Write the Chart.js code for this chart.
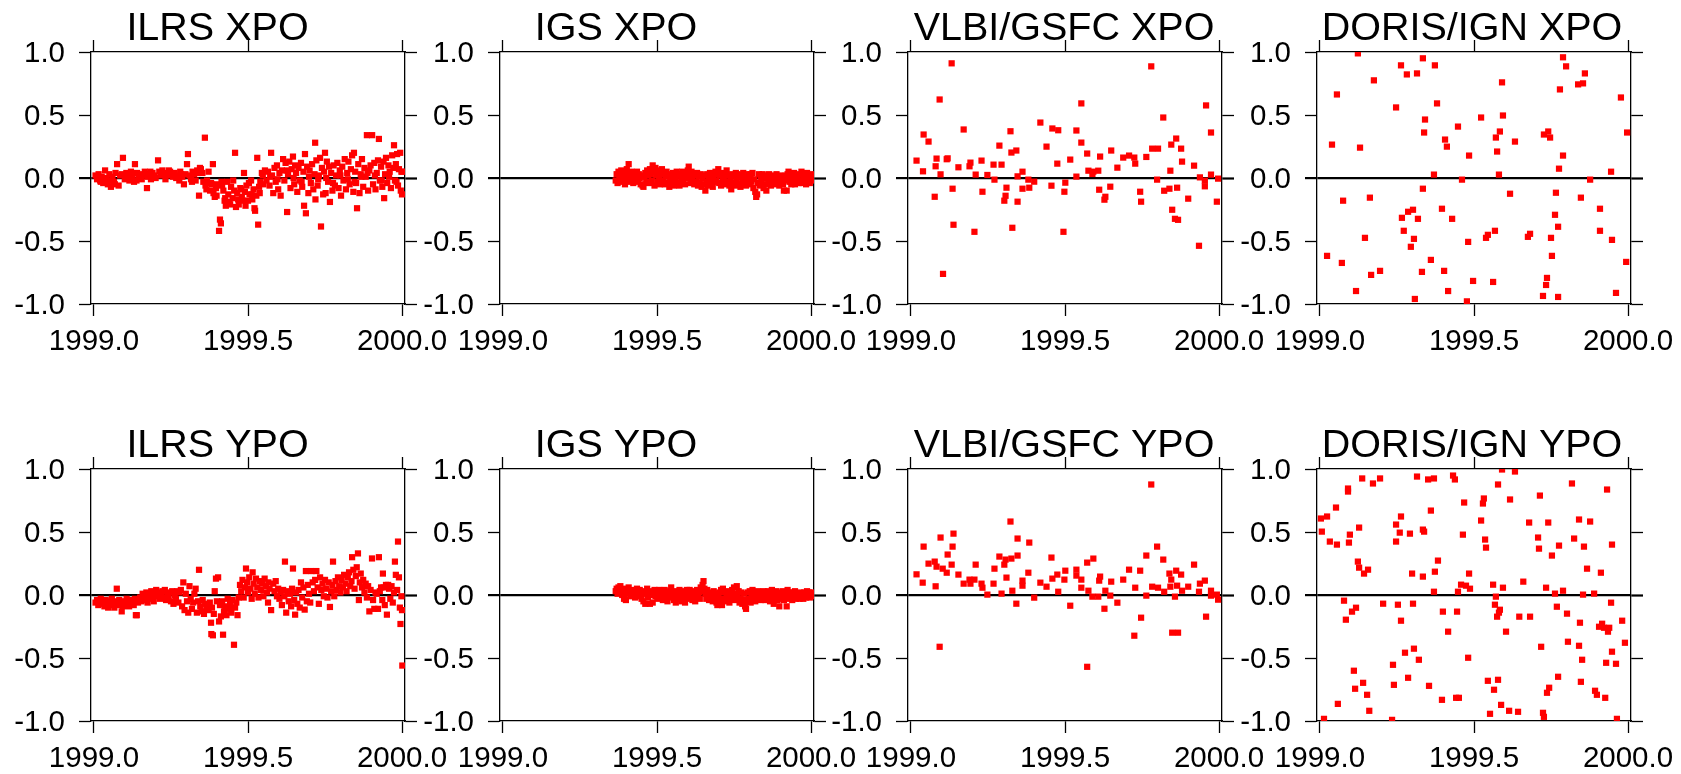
<!DOCTYPE html>
<html>
<head>
<meta charset="utf-8">
<script src="https://cdn.jsdelivr.net/npm/chart.js@4.4.1/dist/chart.umd.min.js"></script>
<style>
html,body{margin:0;padding:0;background:#fff;width:1681px;height:774px;overflow:hidden;position:relative;}
canvas{position:absolute;}
</style>
</head>
<body>
<script>
// ---------- axis settings ----------
const xTicks = [1999.0, 1999.5, 2000.0];
const yTicks = [-1.0, -0.5, 0.0, 0.5, 1.0];
const xMin = 1998.9903, xMax = 2000.0097;
const yMin = -1.0, yMax = 1.0;

// ---------- ILRS XPO ----------
const ilrsXpoX = [
1999.005,1999.010,1999.015,1999.020,1999.022,1999.025,1999.030,1999.036,1999.040,1999.045,
1999.048,1999.050,1999.055,1999.060,1999.065,1999.068,1999.070,1999.075,1999.080,1999.085,
1999.090,1999.094,1999.100,1999.102,1999.105,1999.110,1999.115,1999.120,1999.125,1999.130,
1999.133,1999.138,1999.140,1999.145,1999.150,1999.155,1999.160,1999.165,1999.172,1999.175,
1999.180,1999.183,1999.185,1999.190,1999.195,1999.200,1999.208,1999.212,1999.217,1999.222,
1999.227,1999.232,1999.237,1999.242,1999.243,1999.247,1999.252,1999.257,1999.262,1999.267,
1999.272,1999.277,1999.280,1999.282,1999.287,1999.292,1999.297,1999.302,1999.305,1999.310,
1999.315,1999.318,1999.320,1999.325,1999.330,1999.335,1999.338,1999.341,1999.344,1999.347,
1999.352,1999.355,1999.360,1999.362,1999.365,1999.367,1999.372,1999.377,1999.380,1999.383,
1999.386,1999.388,1999.392,1999.396,1999.398,1999.401,1999.406,1999.409,1999.412,1999.414,
1999.416,1999.420,1999.424,1999.426,1999.428,1999.432,1999.436,1999.440,1999.442,1999.445,
1999.450,1999.452,1999.455,1999.458,1999.461,1999.465,1999.468,1999.470,1999.475,1999.478,
1999.480,1999.484,1999.487,1999.490,1999.492,1999.495,1999.500,1999.503,1999.505,1999.510,
1999.512,1999.514,1999.518,1999.521,1999.523,1999.527,1999.530,1999.533,1999.536,1999.538,
1999.540,1999.545,1999.548,1999.550,1999.555,1999.560,
1999.565,1999.570,1999.572,1999.575,1999.578,1999.582,1999.586,1999.590,1999.594,1999.596,
1999.598,1999.602,1999.606,1999.610,1999.614,1999.618,1999.622,1999.626,1999.627,1999.630,
1999.634,1999.638,1999.642,1999.646,1999.648,1999.650,1999.653,1999.656,1999.660,1999.664,
1999.668,1999.672,1999.674,1999.676,1999.680,1999.682,1999.685,1999.688,1999.692,1999.696,
1999.698,1999.700,1999.704,1999.708,1999.712,1999.716,1999.718,1999.719,1999.722,1999.726,
1999.728,1999.730,1999.734,1999.737,1999.740,1999.744,1999.747,1999.750,1999.752,1999.754,
1999.756,1999.760,1999.763,1999.766,1999.770,1999.774,1999.776,1999.778,1999.782,1999.786,
1999.790,1999.794,1999.798,1999.800,1999.802,1999.806,1999.810,1999.814,1999.818,1999.822,
1999.824,1999.826,1999.830,1999.834,1999.838,1999.842,1999.844,1999.846,1999.848,1999.851,
1999.854,1999.858,1999.862,1999.866,1999.868,1999.870,1999.874,1999.878,1999.882,1999.886,
1999.888,1999.890,1999.894,1999.898,1999.903,1999.906,1999.910,1999.912,1999.914,1999.918,
1999.922,1999.925,1999.928,1999.932,1999.934,1999.936,1999.940,1999.942,1999.945,1999.948,
1999.952,1999.956,1999.958,1999.960,1999.964,1999.968,1999.972,1999.974,1999.977,1999.980,
1999.982,1999.984,1999.987,1999.990,1999.994,1999.996,1999.998,2000.000,2000.001];
const ilrsXpoY = [
0.02,-0.01,0.03,-0.02,-0.03,0.01,-0.04,0.06,0.00,-0.05,
-0.02,0.03,-0.07,0.01,-0.03,-0.05,0.04,0.11,-0.06,0.02,
0.03,0.16,-0.01,0.02,0.04,0.02,-0.02,0.05,0.01,-0.03,
0.11,-0.02,0.04,0.00,0.03,-0.01,0.02,0.05,-0.08,0.01,
0.03,0.05,-0.01,0.04,0.02,0.00,0.14,0.05,0.02,0.06,
0.03,-0.01,0.04,0.02,0.06,0.05,0.03,0.01,0.04,0.00,
0.02,-0.02,0.05,0.03,0.01,-0.05,0.03,0.11,0.19,0.02,
-0.01,-0.03,0.05,0.03,-0.02,0.06,0.04,-0.14,0.08,0.07,
0.04,-0.03,0.32,-0.06,-0.09,-0.02,0.05,-0.10,-0.04,-0.05,
0.11,-0.12,-0.15,-0.08,-0.14,-0.05,-0.42,-0.33,-0.36,-0.03,
-0.06,-0.10,-0.18,-0.16,-0.22,-0.03,-0.13,-0.19,-0.21,-0.07,
-0.16,-0.02,-0.10,0.20,-0.23,-0.12,-0.17,-0.21,-0.08,-0.09,
-0.15,-0.18,0.04,-0.11,-0.22,-0.06,-0.18,-0.04,-0.13,-0.02,
-0.13,-0.17,-0.09,-0.24,-0.26,-0.14,0.16,-0.37,-0.07,-0.12,
-0.03,0.04,0.02,-0.05,0.06,-0.02,
0.05,-0.06,0.01,0.20,0.02,-0.12,0.08,-0.03,0.10,-0.01,
-0.09,0.04,-0.14,0.06,0.15,-0.02,0.12,0.06,-0.27,0.03,
0.13,-0.08,0.07,0.17,0.00,-0.05,0.10,0.04,-0.11,0.08,
-0.02,0.12,-0.03,-0.07,0.05,-0.22,0.19,-0.28,0.09,-0.12,
0.01,0.06,-0.04,0.11,-0.09,0.03,0.28,-0.17,0.14,-0.06,
-0.01,0.02,0.16,-0.385,0.08,-0.13,0.05,0.20,-0.12,0.00,
0.13,-0.03,0.09,-0.19,0.04,-0.10,-0.04,0.10,-0.06,0.02,
0.12,-0.08,0.06,0.02,-0.14,0.09,-0.02,0.15,-0.09,0.04,
-0.01,0.13,-0.05,0.07,0.18,-0.11,0.20,-0.03,0.05,-0.04,
-0.24,0.11,-0.12,0.03,0.01,0.15,-0.07,0.08,0.01,0.34,
0.04,-0.10,0.06,0.10,0.34,-0.05,0.12,0.02,-0.09,0.04,
0.14,0.31,-0.02,0.09,-0.02,-0.07,0.13,-0.16,0.03,0.16,
-0.04,0.10,0.01,0.05,-0.08,0.18,0.08,0.26,-0.02,0.11,
-0.03,0.19,-0.06,0.07,0.20,-0.10,0.05,-0.13,0.05];

// ---------- ILRS YPO ----------
const ilrsYpoX = [
1999.005,1999.010,1999.014,1999.018,1999.022,1999.026,1999.030,1999.034,1999.038,1999.042,
1999.046,1999.050,1999.054,1999.058,1999.062,1999.066,1999.070,1999.074,1999.078,1999.082,
1999.086,1999.090,1999.094,1999.098,1999.102,1999.106,1999.110,1999.114,1999.118,1999.122,
1999.126,1999.129,1999.133,1999.136,1999.139,1999.143,
1999.150,1999.154,1999.158,1999.162,1999.166,1999.170,1999.174,1999.178,1999.182,1999.186,
1999.190,1999.194,1999.198,1999.202,1999.206,1999.210,1999.214,1999.218,1999.222,1999.226,
1999.230,1999.234,1999.238,1999.242,1999.246,1999.250,1999.254,1999.258,1999.262,1999.266,
1999.270,1999.274,1999.278,1999.282,1999.286,1999.290,1999.294,1999.298,1999.302,1999.306,
1999.310,1999.314,1999.318,1999.322,1999.326,1999.330,1999.334,1999.338,1999.341,
1999.345,1999.349,1999.353,1999.357,1999.361,1999.365,1999.369,1999.372,1999.376,1999.380,
1999.381,1999.383,1999.386,1999.389,1999.392,1999.396,1999.399,1999.403,1999.406,1999.409,
1999.412,1999.416,1999.419,1999.422,1999.426,1999.430,1999.434,1999.438,1999.442,1999.446,
1999.450,1999.4545,1999.458,1999.462,1999.466,1999.470,
1999.474,1999.478,1999.482,1999.486,1999.490,1999.4935,1999.497,1999.500,1999.504,1999.508,
1999.512,1999.515,1999.518,1999.522,1999.526,1999.530,1999.534,1999.538,1999.542,1999.546,
1999.550,1999.554,1999.558,1999.562,1999.565,1999.566,1999.570,1999.575,1999.582,1999.586,
1999.590,1999.594,1999.598,
1999.602,1999.606,1999.610,1999.614,1999.618,1999.620,1999.624,1999.628,1999.632,1999.636,
1999.640,1999.643,1999.646,1999.650,1999.653,1999.656,1999.660,1999.664,1999.668,1999.672,
1999.676,1999.680,1999.684,1999.688,1999.691,1999.694,1999.698,1999.702,1999.706,1999.710,
1999.714,1999.718,1999.722,1999.726,1999.730,1999.734,1999.738,1999.742,1999.746,1999.750,
1999.754,1999.758,1999.762,1999.766,1999.770,1999.774,1999.776,1999.780,1999.784,1999.788,
1999.792,1999.796,
1999.800,1999.804,1999.808,1999.812,1999.816,1999.820,1999.824,1999.828,1999.832,1999.836,
1999.838,1999.842,1999.846,1999.850,1999.853,1999.857,1999.860,1999.863,1999.866,1999.870,
1999.874,1999.878,1999.882,1999.886,1999.890,1999.894,1999.898,1999.9026,1999.906,1999.910,
1999.914,
1999.918,1999.922,1999.925,1999.928,1999.932,1999.936,1999.938,1999.940,1999.944,1999.948,
1999.951,1999.955,1999.958,1999.962,1999.966,1999.970,1999.974,1999.977,1999.980,1999.984,
1999.987,1999.990,1999.993,1999.995,1999.998,2000.000,2000.001];
const ilrsYpoY = [
-0.06,-0.04,-0.08,-0.05,-0.03,-0.07,-0.05,-0.09,-0.04,-0.06,
-0.10,-0.05,-0.08,-0.03,-0.07,-0.10,-0.05,0.05,-0.08,-0.04,
-0.06,-0.13,-0.09,-0.05,-0.07,-0.03,-0.06,-0.09,-0.04,-0.07,
-0.05,-0.08,-0.03,-0.16,-0.16,-0.06,
-0.02,-0.05,0.01,-0.04,-0.01,0.02,-0.06,-0.03,0.00,0.03,
-0.02,-0.05,0.01,0.04,-0.01,0.02,-0.03,0.00,0.03,-0.02,
0.04,-0.04,0.01,-0.01,0.02,-0.05,0.03,-0.07,0.00,-0.03,
0.03,-0.06,0.02,0.04,-0.09,0.10,-0.12,0.01,-0.05,-0.14,
0.07,-0.03,-0.11,-0.06,0.01,0.05,-0.14,-0.05,0.20,
-0.09,-0.13,-0.04,-0.15,-0.07,-0.11,-0.08,-0.12,-0.06,-0.22,
-0.31,-0.10,-0.32,-0.15,0.03,0.13,-0.05,0.14,-0.21,-0.08,
-0.17,-0.05,-0.315,-0.13,-0.09,-0.16,-0.03,-0.11,-0.07,-0.14,
-0.04,-0.395,-0.10,-0.06,-0.16,-0.02,
0.08,0.03,0.12,-0.02,0.06,0.21,0.10,0.02,0.14,0.05,
-0.03,0.18,0.09,0.01,0.13,0.06,-0.02,0.11,0.04,0.09,
-0.01,0.13,0.07,0.02,-0.06,0.10,0.05,-0.12,0.09,0.03,
0.11,-0.01,0.05,
-0.03,0.02,-0.08,0.04,-0.01,0.265,-0.14,0.03,-0.05,0.01,
-0.09,0.05,0.21,-0.04,-0.156,0.02,-0.07,0.04,-0.10,0.10,
-0.02,0.06,-0.116,0.19,-0.05,0.08,0.01,-0.06,0.19,0.10,
0.03,0.12,0.19,0.06,-0.07,0.14,0.04,0.09,-0.01,0.12,
0.05,-0.02,0.10,-0.095,0.03,0.08,0.265,-0.01,0.11,0.04,
0.14,0.07,
0.02,0.12,0.06,0.16,0.09,0.03,0.14,0.18,0.07,0.11,
0.30,0.20,0.05,0.15,0.22,0.33,-0.04,0.10,0.17,0.06,
0.12,0.02,0.09,-0.02,0.07,-0.13,0.04,0.29,-0.04,-0.11,
0.02,
0.01,-0.11,0.30,0.03,0.06,-0.04,0.17,0.06,-0.08,0.08,
-0.156,0.08,0.05,-0.03,0.07,-0.06,0.02,0.265,0.16,0.04,
0.424,0.14,-0.10,-0.23,-0.01,-0.12,-0.56];

// ---------- IGS (shared epochs) ----------
const igsX = [
1999.366,1999.369,1999.372,1999.375,1999.378,1999.381,1999.384,1999.387,1999.390,1999.393,
1999.396,1999.399,1999.402,1999.405,1999.408,1999.411,1999.414,1999.417,1999.420,1999.423,
1999.426,1999.429,1999.432,1999.435,1999.438,1999.441,1999.444,1999.447,1999.450,1999.453,
1999.456,1999.459,1999.462,1999.465,1999.468,1999.471,1999.474,1999.477,1999.480,1999.483,
1999.486,1999.489,1999.492,1999.495,1999.498,1999.501,1999.504,1999.507,1999.510,1999.513,
1999.516,1999.519,1999.522,1999.525,1999.528,1999.531,1999.534,1999.537,1999.540,1999.543,
1999.546,1999.549,1999.552,1999.555,1999.558,1999.561,1999.564,1999.567,1999.570,1999.573,
1999.576,1999.579,1999.582,1999.585,1999.588,1999.591,1999.594,1999.597,1999.600,1999.603,
1999.606,1999.609,1999.612,1999.615,1999.618,1999.621,1999.624,1999.627,1999.630,1999.633,
1999.636,1999.639,1999.642,1999.645,1999.648,1999.651,1999.654,1999.657,1999.660,1999.663,
1999.666,1999.669,1999.672,1999.675,1999.678,1999.681,1999.684,1999.687,1999.690,1999.693,
1999.696,1999.699,1999.702,1999.705,1999.708,1999.711,1999.714,1999.717,1999.720,1999.723,
1999.726,1999.729,1999.732,1999.735,1999.738,1999.741,1999.744,1999.747,1999.750,1999.753,
1999.756,1999.759,1999.762,1999.765,1999.768,1999.771,1999.774,1999.777,1999.780,1999.783,
1999.786,1999.789,1999.792,1999.795,1999.798,1999.801,1999.804,1999.807,1999.810,1999.813,
1999.816,1999.819,1999.822,1999.825,1999.828,1999.831,1999.834,1999.837,1999.840,1999.843,
1999.846,1999.849,1999.852,1999.855,1999.858,1999.861,1999.864,1999.867,1999.870,1999.873,
1999.876,1999.879,1999.882,1999.885,1999.888,1999.891,1999.894,1999.897,1999.900,1999.903,
1999.906,1999.909,1999.912,1999.915,1999.918,1999.921,1999.924,1999.927,1999.930,1999.933,
1999.936,1999.939,1999.942,1999.945,1999.948,1999.951,1999.954,1999.957,1999.960,1999.963,
1999.966,1999.969,1999.972,1999.975,1999.978,1999.981,1999.984,1999.987,1999.990,1999.993,
1999.996,1999.999,2000.002,2000.005];
const igsXpoY = [
-0.02,0.03,-0.04,0.05,0.01,-0.03,0.06,0.00,-0.02,0.04,
-0.05,0.02,0.07,-0.01,0.11,0.03,-0.03,0.05,0.00,-0.04,
0.04,0.01,-0.02,0.05,-0.03,0.03,0.00,-0.05,0.02,-0.06,
-0.07,0.01,0.04,-0.03,0.06,0.02,-0.04,0.07,0.03,-0.02,
0.10,0.05,-0.06,0.08,0.02,-0.03,0.06,0.00,-0.05,0.04,
0.07,-0.02,0.03,-0.05,0.01,0.05,-0.04,0.02,-0.07,0.00,
0.03,-0.03,0.04,-0.06,0.01,-0.02,0.05,-0.04,0.02,-0.06,
0.03,-0.01,0.05,-0.03,0.02,-0.05,0.04,0.00,0.06,0.09,
0.01,-0.04,0.05,-0.02,0.03,-0.05,0.02,-0.03,0.04,-0.06,
0.01,-0.04,0.03,-0.07,0.00,-0.05,0.02,-0.10,-0.03,0.03,
-0.06,0.00,0.04,-0.04,0.02,-0.07,0.01,-0.03,0.05,-0.02,
0.03,0.07,-0.04,0.02,-0.06,0.04,-0.02,0.01,-0.05,0.03,
0.06,-0.03,0.02,-0.06,0.00,-0.09,0.03,-0.04,0.01,-0.06,
0.04,-0.02,0.03,-0.05,0.01,-0.07,0.02,-0.03,0.04,-0.02,
0.01,-0.06,0.03,-0.04,0.00,-0.05,0.03,-0.03,0.04,-0.08,
-0.01,-0.11,-0.15,-0.13,-0.04,0.03,-0.06,0.01,-0.03,0.03,
-0.08,0.00,-0.05,-0.10,0.02,-0.04,0.03,-0.02,-0.06,0.01,
-0.03,0.02,-0.05,-0.01,0.03,-0.04,0.00,-0.06,0.02,-0.03,
0.01,-0.05,-0.10,-0.02,0.02,-0.10,0.03,0.05,-0.03,0.01,
-0.05,0.02,-0.02,0.04,-0.05,0.00,-0.03,0.02,-0.04,0.03,
-0.02,0.05,-0.04,0.01,-0.03,0.02,-0.05,0.04,-0.02,0.01,
-0.04,0.02,-0.02,0.03];
const igsYpoY = [
0.03,0.05,0.01,0.06,0.02,0.07,0.04,0.00,0.05,-0.03,
0.02,-0.04,0.04,0.01,0.06,0.02,-0.01,0.03,0.00,0.04,
0.02,-0.02,0.03,0.05,0.01,-0.01,0.04,0.00,-0.03,0.03,
-0.05,0.01,-0.07,0.02,0.05,-0.02,0.01,-0.07,0.03,0.00,
-0.06,0.02,0.04,-0.01,0.01,-0.03,0.02,0.04,-0.02,0.03,
0.00,-0.04,0.02,0.04,-0.03,0.01,-0.05,0.02,-0.02,0.03,
0.06,-0.01,0.02,-0.04,0.01,-0.06,0.03,0.00,-0.03,0.04,
0.01,-0.05,0.02,-0.02,0.03,-0.06,0.00,0.04,-0.03,0.01,
0.04,-0.02,0.02,-0.04,0.03,0.00,-0.05,0.02,0.04,-0.01,
0.02,-0.03,0.06,0.03,0.08,0.11,0.05,0.01,-0.03,0.04,
0.00,-0.04,0.02,-0.02,0.01,-0.05,0.03,-0.03,0.01,-0.06,
-0.08,-0.02,0.02,-0.04,0.04,-0.08,0.05,-0.03,0.02,-0.05,
0.01,-0.02,0.03,-0.06,0.02,-0.03,0.04,0.00,0.06,-0.04,
0.01,0.07,-0.02,0.03,-0.06,-0.03,0.02,-0.07,-0.04,0.01,
-0.09,-0.11,-0.05,0.02,-0.03,0.03,-0.06,0.00,0.04,-0.02,
0.02,-0.05,0.01,-0.03,0.03,-0.01,0.02,-0.04,0.01,-0.02,
0.03,0.00,-0.04,0.02,-0.02,0.03,0.00,-0.05,0.01,0.04,
-0.03,-0.07,0.02,-0.02,0.03,-0.04,0.00,-0.09,-0.03,0.02,
-0.01,0.03,-0.04,0.01,-0.02,-0.09,0.04,-0.03,0.02,-0.02,
0.01,-0.04,0.02,-0.01,0.03,-0.03,0.00,-0.02,0.01,-0.03,
0.02,-0.01,0.01,-0.03,0.02,0.00,-0.02,0.03,-0.01,0.02,
-0.02,0.01,-0.01,0.02];

// ---------- VLBI/GSFC XPO ----------
const vlbiXpoX = [
1999.018,1999.039,1999.041,1999.057,1999.077,1999.080,1999.083,1999.093,1999.096,1999.104,
1999.116,1999.119,1999.132,1999.135,1999.138,1999.154,1999.171,1999.190,1999.193,1999.206,
1999.210,1999.229,1999.232,1999.248,1999.268,1999.271,1999.287,1999.294,1999.303,1999.307,
1999.310,1999.323,1999.326,1999.329,1999.342,1999.346,1999.346,1999.362,1999.362,1999.381,
1999.384,1999.400,1999.420,1999.440,1999.456,1999.459,1999.475,1999.478,1999.495,1999.498,
1999.501,1999.517,1999.537,1999.537,1999.553,1999.553,1999.572,1999.576,1999.589,1999.592,
1999.608,1999.611,1999.614,1999.628,1999.631,1999.647,1999.650,1999.670,1999.689,1999.708,
1999.725,1999.728,1999.744,1999.747,1999.764,1999.780,1999.783,1999.802,1999.799,1999.819,
1999.822,1999.839,1999.842,1999.845,1999.848,1999.857,1999.861,1999.864,1999.867,1999.877,
1999.880,1999.900,1999.919,1999.935,1999.938,1999.954,1999.954,1999.958,1999.974,1999.974,
1999.993,1999.997];
const vlbiXpoY = [
0.138,0.053,0.345,0.289,-0.149,0.093,0.154,0.623,0.029,-0.761,
0.149,0.156,0.910,-0.085,-0.371,0.085,0.385,0.093,0.122,-0.427,
0.027,0.138,-0.109,0.024,0.106,-0.013,0.257,0.106,-0.180,-0.141,
-0.077,0.371,0.202,-0.395,0.218,-0.188,0.013,0.050,-0.085,-0.013,
-0.077,-0.029,0.440,0.249,-0.061,0.393,0.114,0.379,-0.427,-0.109,
-0.037,0.146,0.011,0.377,0.592,0.281,0.194,0.058,0.032,0.050,
0.058,-0.093,0.170,-0.172,-0.149,-0.069,0.218,0.082,0.162,0.178,
0.162,0.114,-0.109,-0.188,0.167,0.886,0.233,0.233,-0.013,0.480,
-0.101,-0.085,0.058,0.265,-0.252,-0.324,0.313,-0.077,-0.332,0.233,
0.130,-0.164,0.098,-0.538,0.005,-0.066,-0.021,0.576,0.361,0.027,
-0.188,-0.005];

// ---------- VLBI/GSFC YPO ----------
const vlbiYpoX = [
1999.018,1999.038,1999.041,1999.057,1999.077,1999.080,1999.083,1999.096,1999.093,1999.103,
1999.116,1999.119,1999.132,1999.135,1999.138,1999.154,1999.171,1999.190,1999.193,1999.206,
1999.210,1999.229,1999.232,1999.248,1999.268,1999.271,1999.287,1999.294,1999.303,1999.307,
1999.310,1999.323,1999.326,1999.329,1999.342,1999.346,1999.346,1999.362,1999.362,1999.381,
1999.384,1999.400,1999.420,1999.440,1999.456,1999.459,1999.475,1999.478,1999.498,1999.501,
1999.517,1999.537,1999.537,1999.553,1999.553,1999.572,1999.572,1999.576,1999.589,1999.592,
1999.608,1999.611,1999.614,1999.628,1999.631,1999.647,1999.650,1999.670,1999.689,1999.708,
1999.725,1999.728,1999.744,1999.747,1999.764,1999.764,1999.780,1999.783,1999.799,1999.802,
1999.819,1999.822,1999.839,1999.842,1999.845,1999.848,1999.857,1999.861,1999.864,1999.867,
1999.877,1999.880,1999.900,1999.919,1999.935,1999.938,1999.954,1999.958,1999.974,1999.974,
1999.993,1999.997];
const vlbiYpoY = [
0.164,0.098,0.384,0.249,0.265,0.069,0.225,0.456,-0.411,0.209,
0.177,0.321,0.241,0.384,0.487,0.162,0.090,0.122,0.090,0.122,
0.241,0.090,0.058,0.003,0.090,0.209,0.305,0.011,0.241,0.281,
0.138,0.583,0.289,0.034,-0.069,0.313,0.448,0.114,0.074,0.177,
0.416,-0.021,0.098,0.066,0.297,0.130,0.162,0.026,0.122,0.193,
-0.085,0.201,0.154,0.122,0.058,0.257,-0.570,0.034,-0.013,0.289,
-0.013,0.114,0.146,-0.109,0.034,-0.005,0.106,-0.061,0.122,0.201,
-0.323,0.058,0.193,-0.180,0.313,-0.005,0.877,0.066,0.384,0.058,
0.281,0.026,0.170,0.066,0.122,-0.299,-0.013,0.193,0.074,-0.299,
0.162,0.034,0.066,0.241,0.026,0.090,0.114,-0.172,0.034,-0.005,
0.003,-0.037];

// ---------- DORIS/IGN XPO ----------
const dorisXpoX = [
1999.023,1999.039,1999.055,1999.071,1999.075,1999.117,1999.123,1999.130,1999.146,1999.162,
1999.166,1999.175,1999.195,1999.247,1999.263,1999.266,1999.272,1999.282,1999.286,1999.295,
1999.302,1999.305,1999.308,1999.315,1999.318,1999.331,1999.334,1999.334,1999.338,1999.341,
1999.360,1999.370,1999.373,1999.380,1999.396,1999.403,1999.406,1999.412,1999.416,1999.429,
1999.448,1999.461,1999.477,1999.481,1999.484,1999.497,1999.523,1999.539,1999.545,1999.562,
1999.568,1999.571,1999.575,1999.581,1999.584,1999.591,1999.594,1999.617,1999.633,1999.675,
1999.682,1999.724,1999.727,1999.734,1999.737,1999.741,1999.747,1999.750,1999.753,1999.763,
1999.766,1999.773,1999.773,1999.776,1999.779,1999.789,1999.789,1999.799,1999.838,1999.847,
1999.854,1999.860,1999.877,1999.909,1999.909,1999.945,1999.948,1999.961,1999.977,1999.994,
1999.997];
const dorisXpoY = [
-0.618,0.265,0.663,-0.674,-0.180,-0.897,0.989,0.241,-0.475,-0.156,
-0.769,0.775,-0.737,0.560,0.894,-0.316,-0.419,0.822,-0.268,-0.546,
-0.252,-0.483,-0.960,0.830,-0.324,-0.745,0.950,-0.085,0.361,0.464,
-0.650,0.027,0.894,0.592,-0.244,-0.737,0.305,0.249,-0.897,-0.324,
0.408,-0.013,-0.979,-0.507,0.178,-0.817,0.480,-0.475,-0.451,-0.825,
-0.419,0.321,0.210,0.027,0.369,0.759,0.496,-0.125,0.289,-0.467,
-0.443,-0.936,0.345,-0.849,-0.793,0.369,0.321,-0.475,-0.618,-0.292,
-0.117,-0.387,-0.944,0.074,0.703,0.958,0.178,0.886,0.743,-0.156,
0.751,0.830,-0.013,-0.244,-0.419,0.050,-0.491,-0.912,0.639,-0.666,
0.361];

// ---------- DORIS/IGN YPO ----------
const dorisYpoX = [
1999.003,1999.006,1999.013,1999.023,1999.032,1999.052,1999.055,1999.058,1999.078,1999.084,
1999.091,1999.091,1999.094,1999.097,1999.104,1999.110,1999.114,1999.117,1999.123,1999.127,
1999.127,1999.137,1999.140,1999.143,1999.153,1999.156,1999.160,1999.172,1999.195,1999.205,
1999.234,1999.237,1999.240,1999.247,1999.247,1999.253,1999.259,1999.263,1999.263,1999.276,
1999.286,1999.292,1999.299,1999.302,1999.305,1999.315,1999.321,1999.334,1999.338,1999.334,
1999.351,1999.354,1999.360,1999.370,1999.370,1999.373,1999.383,1999.396,1999.399,1999.416,
1999.432,1999.438,1999.442,1999.445,1999.448,1999.451,1999.458,1999.464,1999.468,1999.474,
1999.481,1999.484,1999.487,1999.523,1999.529,1999.532,1999.536,1999.539,1999.545,1999.552,
1999.562,1999.565,1999.568,1999.571,1999.575,1999.578,1999.578,1999.581,1999.584,1999.588,
1999.591,1999.594,1999.604,1999.614,1999.617,1999.633,1999.643,1999.647,1999.660,1999.679,
1999.682,1999.708,1999.711,1999.714,1999.718,1999.724,1999.727,1999.734,1999.737,1999.741,
1999.744,1999.753,1999.763,1999.769,1999.773,1999.776,1999.789,1999.802,1999.805,1999.818,
1999.825,1999.841,1999.841,1999.844,1999.847,1999.851,1999.854,1999.857,1999.867,1999.877,
1999.890,1999.893,1999.899,1999.906,1999.912,1999.916,1999.922,1999.926,1999.929,1999.932,
1999.935,1999.939,1999.945,1999.948,1999.948,1999.961,1999.964,1999.981,1999.990];
const dorisYpoY = [
0.607,0.503,-0.983,0.623,0.424,0.694,0.400,-0.864,-0.045,-0.196,
0.845,0.821,0.416,0.479,-0.132,-0.601,-0.744,-0.101,0.265,0.535,
0.217,0.925,-0.697,0.170,-0.792,0.201,-0.919,0.885,0.925,-0.069,
-0.991,-0.554,-0.713,0.559,0.424,-0.077,0.495,0.623,-0.204,-0.458,
-0.657,0.487,0.170,-0.069,-0.426,0.940,-0.514,0.519,0.503,0.146,
0.917,-0.721,0.670,0.925,0.026,0.185,0.273,-0.832,-0.132,-0.291,
0.948,0.917,-0.816,-0.132,0.026,-0.816,0.082,0.479,0.734,0.074,
-0.498,0.170,0.050,0.591,0.726,0.766,0.440,0.376,-0.681,-0.943,
0.082,-0.752,-0.077,-0.013,-0.172,-0.673,0.877,-0.140,-0.117,-0.872,
0.996,0.058,-0.291,-0.919,0.758,0.980,-0.927,-0.172,0.106,0.575,
-0.172,0.456,0.368,0.789,-0.411,-0.935,-0.967,0.058,-0.776,0.575,
-0.736,0.313,0.011,-0.093,-0.649,0.392,0.034,-0.148,-0.371,0.885,
0.448,0.599,-0.403,-0.220,-0.689,-0.514,0.003,0.384,0.209,0.583,
0.011,-0.760,-0.792,-0.252,0.177,-0.228,-0.260,-0.816,-0.538,0.837,
-0.291,-0.260,-0.061,0.400,-0.450,-0.546,-0.983,-0.204,-0.379];

// ---------- layout ----------
const FONT = '"Liberation Sans", Arial, Helvetica, sans-serif';
Chart.defaults.font.family = FONT;
Chart.defaults.color = '#000';

const PADL = 90, PADR = 70, PADT = 52, PADB = 60, BOXW = 314, BOXH = 252;
const colLeft = [91, 500, 908, 1317];
const rowTop = [52, 469];

const panels = [
  {title:'ILRS XPO',       xs:ilrsXpoX,  ys:ilrsXpoY,  col:0,row:0,dx:-30.5},
  {title:'IGS XPO',        xs:igsX,      ys:igsXpoY,   col:1,row:0,dx:-41},
  {title:'VLBI/GSFC XPO',  xs:vlbiXpoX,  ys:vlbiXpoY,  col:2,row:0,dx:-1},
  {title:'DORIS/IGN XPO',  xs:dorisXpoX, ys:dorisXpoY, col:3,row:0,dx:-2},
  {title:'ILRS YPO',       xs:ilrsYpoX,  ys:ilrsYpoY,  col:0,row:1,dx:-30.5},
  {title:'IGS YPO',        xs:igsX,      ys:igsYpoY,   col:1,row:1,dx:-41},
  {title:'VLBI/GSFC YPO',  xs:vlbiYpoX,  ys:vlbiYpoY,  col:2,row:1,dx:-1},
  {title:'DORIS/IGN YPO',  xs:dorisYpoX, ys:dorisYpoY, col:3,row:1,dx:-2}
];

const titlePlugin = {
  id: 'panelTitle',
  afterDraw(chart, args, opts) {
    const ctx = chart.ctx, a = chart.chartArea;
    ctx.save();
    ctx.font = '39.5px ' + FONT;
    ctx.fillStyle = '#000';
    ctx.textAlign = 'center';
    ctx.textBaseline = 'alphabetic';
    ctx.fillText(opts.text, (a.left + a.right) / 2 + opts.dx, a.top - 12.3);
    ctx.restore();
  }
};

const tickFont = {size: 29.5, family: FONT};
const isZero = c => c.tick && Math.abs(c.tick.value) < 1e-9;
const setXTicks = s => { s.ticks = xTicks.map(v => ({value: v})); };
const setYTicks = s => { s.ticks = yTicks.map(v => ({value: v})); };
const border = {display: true, color: '#000', width: 1.3};

panels.forEach(p => {
  const cv = document.createElement('canvas');
  const w = PADL + BOXW + PADR, h = PADT + BOXH + PADB;
  cv.width = w; cv.height = h;
  cv.style.width = w + 'px'; cv.style.height = h + 'px';
  cv.style.left = (colLeft[p.col] - PADL) + 'px';
  cv.style.top = (rowTop[p.row] - PADT) + 'px';
  document.body.appendChild(cv);

  const pts = p.xs.map((x, i) => ({x: x, y: p.ys[i]}));

  new Chart(cv, {
    type: 'scatter',
    data: {datasets: [{
      data: pts,
      backgroundColor: '#ff0000',
      borderWidth: 0,
      pointStyle: 'rect',
      pointRadius: 4.4,
      pointHoverRadius: 4.4,
      clip: 0
    }]},
    options: {
      responsive: false,
      animation: false,
      devicePixelRatio: 1,
      events: [],
      layout: {padding: 0},
      plugins: {
        legend: {display: false},
        tooltip: {enabled: false},
        panelTitle: {text: p.title, dx: p.dx}
      },
      scales: {
        x: {
          type: 'linear', position: 'bottom', min: xMin, max: xMax,
          afterBuildTicks: setXTicks,
          afterFit: s => { s.height = PADB; },
          ticks: {callback: v => Number(v).toFixed(1), font: tickFont, color: '#000', padding: 8, maxRotation: 0, autoSkip: false},
          grid: {drawOnChartArea: false, drawTicks: true, tickLength: 12, tickColor: '#000', tickWidth: 1.3},
          border: border
        },
        x2: {
          type: 'linear', position: 'top', min: xMin, max: xMax,
          afterBuildTicks: setXTicks,
          afterFit: s => { s.height = PADT; },
          ticks: {display: false},
          grid: {drawOnChartArea: false, drawTicks: true, tickLength: 12, tickColor: '#000', tickWidth: 1.3},
          border: border
        },
        y: {
          type: 'linear', position: 'left', min: yMin, max: yMax, z: 1,
          afterBuildTicks: setYTicks,
          afterFit: s => { s.width = PADL; },
          ticks: {callback: v => Number(v).toFixed(1), font: tickFont, color: '#000', padding: 14, labelOffset: 2, autoSkip: false},
          grid: {
            drawOnChartArea: true, drawTicks: true, tickLength: 12,
            color: c => isZero(c) ? '#000' : 'rgba(0,0,0,0)',
            lineWidth: c => isZero(c) ? 2.2 : 1,
            tickColor: '#000',
            tickWidth: c => isZero(c) ? 2.2 : 1.3
          },
          border: border
        },
        y2: {
          type: 'linear', position: 'right', min: yMin, max: yMax, z: 1,
          afterBuildTicks: setYTicks,
          afterFit: s => { s.width = PADR; },
          ticks: {display: false},
          grid: {
            drawOnChartArea: false, drawTicks: true, tickLength: 12,
            tickColor: '#000',
            tickWidth: c => isZero(c) ? 2.2 : 1.3
          },
          border: border
        }
      }
    },
    plugins: [titlePlugin]
  });
});
</script>
</body>
</html>
